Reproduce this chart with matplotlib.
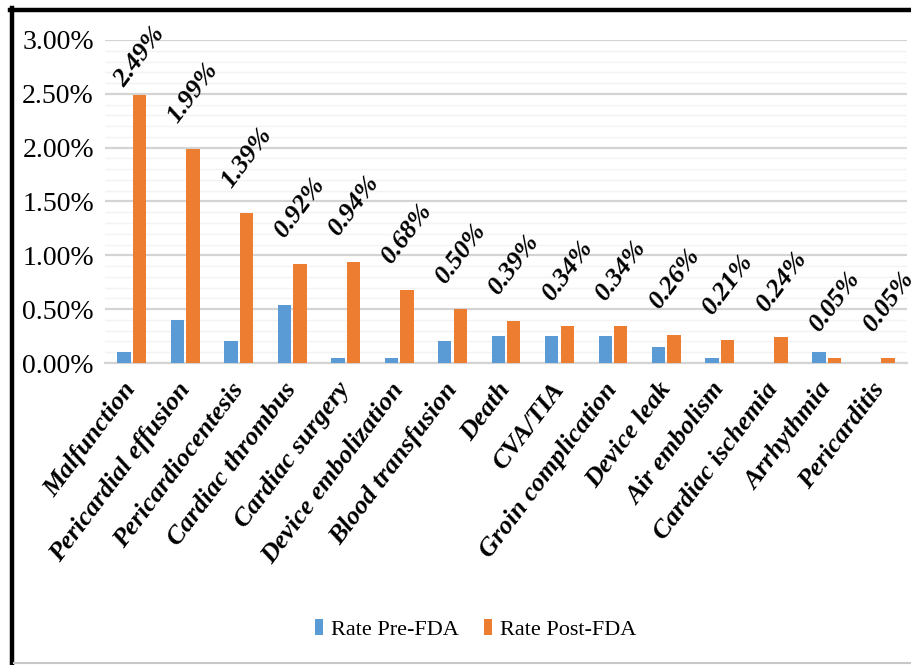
import matplotlib.pyplot as plt
import numpy as np
from matplotlib.lines import Line2D
from matplotlib.ticker import FuncFormatter, MultipleLocator

# Complication rates before and after FDA approval (%)
categories = ['Malfunction', 'Pericardial effusion', 'Pericardiocentesis',
              'Cardiac thrombus', 'Cardiac surgery', 'Device embolization',
              'Blood transfusion', 'Death', 'CVA/TIA', 'Groin complication',
              'Device leak', 'Air embolism', 'Cardiac ischemia', 'Arrhythmia',
              'Pericarditis']
rate_pre = [0.10, 0.40, 0.20, 0.54, 0.05, 0.05, 0.20, 0.25, 0.25, 0.25,
            0.15, 0.05, 0.00, 0.10, 0.00]
rate_post = [2.49, 1.99, 1.39, 0.92, 0.94, 0.68, 0.50, 0.39, 0.34, 0.34,
             0.26, 0.21, 0.24, 0.05, 0.05]

blue = '#5B9BD5'
orange = '#ED7D31'
serif = 'Liberation Serif'

dpi = 100
fig = plt.figure(figsize=(9.11, 6.65), dpi=dpi)
ax = fig.add_axes([0.1153, 0.4541, 0.8803, 0.4858])

x = np.arange(len(categories))
w = 0.25
ax.bar(x - 0.145, rate_pre, w, color=blue, label='Rate Pre-FDA', zorder=3)
ax.bar(x + 0.145, rate_post, w, color=orange, label='Rate Post-FDA', zorder=3)

ax.set_xlim(-0.5, len(categories) - 0.5)
ax.set_ylim(0, 3.0)
ax.yaxis.set_major_locator(MultipleLocator(0.5))
ax.yaxis.set_minor_locator(MultipleLocator(0.1))
ax.yaxis.set_major_formatter(FuncFormatter(lambda v, p: f'{v:.2f}%'))
ax.grid(axis='y', which='major', color='#d4d4d4', linewidth=1.6, zorder=0)
ax.grid(axis='y', which='minor', color='#f3f3f3', linewidth=1.0, zorder=0)
ax.tick_params(axis='y', which='both', length=0, pad=8)
ax.tick_params(axis='x', length=0, pad=16)
for lab in ax.get_yticklabels():
    lab.set_fontfamily(serif)
    lab.set_fontsize(20)

for s in ['top', 'right', 'left']:
    ax.spines[s].set_visible(False)
ax.spines['bottom'].set_color('#d4d4d4')
ax.spines['bottom'].set_linewidth(1.6)

ax.set_xticks(x)
ax.set_xticklabels(categories, rotation=53, ha='right', va='center',
                   rotation_mode='anchor', fontfamily=serif,
                   fontweight='bold', fontstyle='italic', fontsize=19)

# value labels above the post-FDA bars, kept inside the plot at the top
label_y = np.minimum(np.array(rate_post) + 0.2, 2.53)
for xi, v, ly in zip(x, rate_post, label_y):
    ax.text(xi + 0.145, ly, f'{v:.2f}%', rotation=53, ha='center', va='bottom',
            fontfamily=serif, fontweight='bold', fontstyle='italic',
            fontsize=19, clip_on=False)

fig.legend(loc='center', bbox_to_anchor=(0.522, 0.053), ncol=2,
           frameon=False, handlelength=0.4, handleheight=0.7,
           handletextpad=0.35, columnspacing=1.1,
           prop={'family': serif, 'size': 16})

# frame lines around the chart
W, H = 911, 665
fig.add_artist(Line2D([10 / W, 1], [1 - 9.5 / H] * 2, color='black',
                      linewidth=3.2, transform=fig.transFigure))
fig.add_artist(Line2D([12 / W] * 2, [0, 1 - 8 / H], color='black',
                      linewidth=3.2, transform=fig.transFigure))
fig.add_artist(Line2D([14 / W, 1], [2 / H] * 2, color='#c8c8c8',
                      linewidth=1.5, transform=fig.transFigure))

fig.savefig('out.png', dpi=dpi)
